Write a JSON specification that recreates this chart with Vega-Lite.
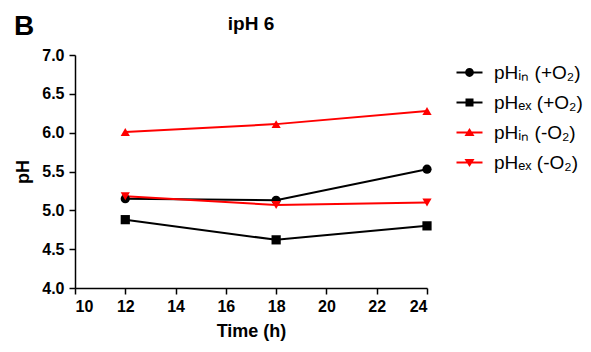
{
  "$schema": "https://vega.github.io/schema/vega-lite/v6.json",
  "autosize": {"type": "none"},
  "width": 352,
  "height": 233,
  "padding": {"left": 75, "top": 55, "right": 164, "bottom": 64},
  "background": "white",
  "config": {
    "view": {"stroke": null},
    "font": "Liberation Sans",
    "axis": {
      "domainColor": "black", "domainWidth": 1.5, "tickColor": "black", "tickWidth": 1.5, "tickSize": 6,
      "labelFont": "Liberation Sans", "labelFontWeight": "bold", "labelFontSize": 16, "labelColor": "black",
      "titleFont": "Liberation Sans", "titleFontWeight": "bold", "titleFontSize": 18, "titleColor": "black",
      "grid": false
    }
  },
  "title": {"text": "ipH 6", "fontSize": 19, "fontWeight": "bold", "font": "Liberation Sans", "anchor": "middle", "offset": 14, "dy": 35, "color": "black"},
  "data": {
    "values": [
      {"time": 12, "ph": 5.15, "series": "pHᵢₙ (+O₂)"},
      {"time": 18, "ph": 5.13, "series": "pHᵢₙ (+O₂)"},
      {"time": 24, "ph": 5.53, "series": "pHᵢₙ (+O₂)"},
      {"time": 12, "ph": 4.88, "series": "pHₑₓ (+O₂)"},
      {"time": 18, "ph": 4.62, "series": "pHₑₓ (+O₂)"},
      {"time": 24, "ph": 4.80, "series": "pHₑₓ (+O₂)"},
      {"time": 12, "ph": 6.01, "series": "pHᵢₙ (-O₂)"},
      {"time": 18, "ph": 6.11, "series": "pHᵢₙ (-O₂)"},
      {"time": 24, "ph": 6.28, "series": "pHᵢₙ (-O₂)"},
      {"time": 12, "ph": 5.18, "series": "pHₑₓ (-O₂)"},
      {"time": 18, "ph": 5.07, "series": "pHₑₓ (-O₂)"},
      {"time": 24, "ph": 5.10, "series": "pHₑₓ (-O₂)"}
    ]
  },
  "encoding": {
    "x": {"field": "time", "type": "quantitative", "title": "Time (h)",
      "scale": {"domain": [10, 24], "nice": false, "zero": false},
      "axis": {"values": [10, 12, 14, 16, 18, 20, 22, 24], "labelPadding": 4, "titlePadding": 8}},
    "y": {"field": "ph", "type": "quantitative", "title": "pH",
      "scale": {"domain": [4, 7], "nice": false, "zero": false},
      "axis": {"values": [4, 4.5, 5, 5.5, 6, 6.5, 7], "format": ".1f", "labelPadding": 5, "titlePadding": 9}}
  },
  "layer": [
    {
      "mark": {"type": "point", "filled": true, "opacity": 1, "size": 1},
      "encoding": {
        "color": {"field": "series", "type": "nominal",
          "scale": {"domain": ["pHᵢₙ (+O₂)", "pHₑₓ (+O₂)", "pHᵢₙ (-O₂)", "pHₑₓ (-O₂)"], "range": ["black", "black", "#ff0000", "#ff0000"]},
          "legend": {"orient": "none", "legendX": 385, "legendY": 8, "title": null, "padding": 0,
            "labelFontSize": 19, "labelFont": "Liberation Sans", "labelColor": "black", "labelOffset": 15,
            "rowPadding": 10, "symbolSize": 64, "symbolStrokeWidth": 0, "symbolOpacity": 1}},
        "shape": {"field": "series", "type": "nominal",
          "legend": {"orient": "none", "legendX": 385, "legendY": 8, "title": null, "padding": 0,
            "labelFontSize": 19, "labelFont": "Liberation Sans", "labelColor": "black", "labelOffset": 15,
            "rowPadding": 10, "symbolSize": 64, "symbolStrokeWidth": 0, "symbolOpacity": 1},
          "scale": {"domain": ["pHᵢₙ (+O₂)", "pHₑₓ (+O₂)", "pHᵢₙ (-O₂)", "pHₑₓ (-O₂)"],
            "range": [
              "M-3.25,-0.25H-1V0.25H-3.25Z M1,-0.25H3.25V0.25H1Z M-1.1,0A1.1,1.1 0 1,1 1.1,0A1.1,1.1 0 1,1 -1.1,0Z",
              "M-3.25,-0.25H3.25V0.25H-3.25Z M-1,-1H1V1H-1Z",
              "M-3.25,-0.25H3.25V0.25H-3.25Z M0,-1.1L1.25,0.9H-1.25Z",
              "M-3.25,-0.25H3.25V0.25H-3.25Z M-1.25,-0.9H1.25L0,1.1Z"
            ]}}
      }
    },
    {
      "transform": [{"filter": {"field": "series", "oneOf": ["pHᵢₙ (+O₂)", "pHₑₓ (+O₂)"]}}],
      "mark": {"type": "line", "strokeWidth": 2, "color": "black"},
      "encoding": {"detail": {"field": "series", "type": "nominal"}}
    },
    {
      "transform": [{"filter": {"field": "series", "oneOf": ["pHᵢₙ (-O₂)", "pHₑₓ (-O₂)"]}}],
      "mark": {"type": "line", "strokeWidth": 2, "color": "#ff0000"},
      "encoding": {"detail": {"field": "series", "type": "nominal"}}
    },
    {
      "transform": [{"filter": {"field": "series", "equal": "pHᵢₙ (+O₂)"}}],
      "mark": {"type": "point", "filled": true, "opacity": 1, "size": 85, "shape": "circle", "color": "black"}
    },
    {
      "transform": [{"filter": {"field": "series", "equal": "pHₑₓ (+O₂)"}}],
      "mark": {"type": "point", "filled": true, "opacity": 1, "size": 85, "shape": "square", "color": "black"}
    },
    {
      "transform": [{"filter": {"field": "series", "equal": "pHᵢₙ (-O₂)"}}],
      "mark": {"type": "point", "filled": true, "opacity": 1, "size": 85, "shape": "triangle-up", "color": "#ff0000"}
    },
    {
      "transform": [{"filter": {"field": "series", "equal": "pHₑₓ (-O₂)"}}],
      "mark": {"type": "point", "filled": true, "opacity": 1, "size": 85, "shape": "triangle-down", "color": "#ff0000"}
    },
    {
      "data": {"values": [{"t": "B", "time": 10, "ph": 7}]},
      "mark": {"type": "text", "fontSize": 28, "fontWeight": "bold", "font": "Liberation Sans", "align": "left", "baseline": "alphabetic", "dx": -61, "dy": -20, "color": "black"},
      "encoding": {"text": {"field": "t", "type": "nominal"}}
    }
  ]
}
